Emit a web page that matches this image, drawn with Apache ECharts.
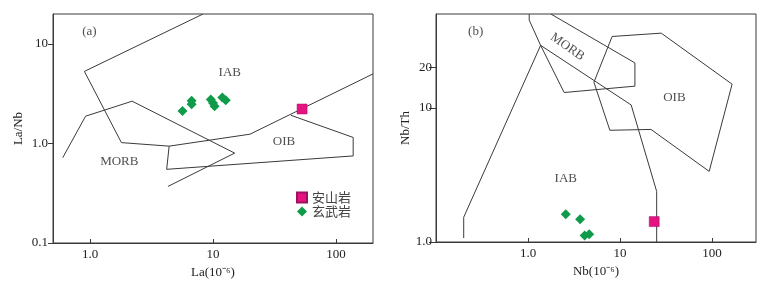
<!DOCTYPE html>
<html><head><meta charset="utf-8">
<script src="https://cdn.jsdelivr.net/npm/echarts@6/dist/echarts.min.js"></script>
<style>html,body{margin:0;padding:0;background:#fff}#c{width:769px;height:281px}</style>
</head><body><div id="c"></div><script>
// ---- Data (a): La/Nb vs La ----
const leftIAB = [[8.3,20],[0.9,5.3],[1.8,1.02],[4.4,0.94],[20,1.24],[200,5.0]];
const leftMORB = [[0.6,0.72],[0.92,1.88],[2.2,2.66],[15,0.8],[4.3,0.37]];
const leftOIB = [[43,1.92],[138,1.15],[138,0.75],[4.2,0.55],[4.4,0.94]];
const leftAndesite = [[53,2.22]];
const leftBasalt = [[5.65,2.12],[6.7,2.68],[6.7,2.48],[9.6,2.76],[10.0,2.55],[10.3,2.37],[11.9,2.89],[12.7,2.72]];
const leftLabels = [['(a)',0.99,13.2],['IAB',13.7,5.1],['MORB',1.73,0.654],['OIB',37.8,1.04]];
const leftXTicks = [1,10,100];
const leftXTickLabels = ['1.0','10','100'];
const leftYTicks = [0.1,1,10];
const leftYTickLabels = ['0.1','1.0','10'];

// ---- Data (b): Nb/Th vs Nb ----
const rightMORB = [[1.03,50],[1.03,45],[1.37,29.2],[2.47,13],[14.5,14.5],[14.5,21.6],[1.77,50]];
const rightIAB = [[0.2,1.07],[0.2,1.53],[1.37,29.2],[13.2,10.5],[25,2.38],[25,1.0]];
const rightOIB = [[8.2,34],[28,36],[165,15],[93,3.36],[21.7,6.9],[7.75,6.8],[5.2,15.5],[8.2,34]];
const rightAndesite = [[23.5,1.42]];
const rightBasalt = [[2.57,1.61],[3.68,1.48],[4.12,1.12],[4.62,1.14]];
const rightLabels = [['(b)',0.27,36.7,0],['MORB',2.68,28.4,-35],['OIB',38.9,11.9,0],['IAB',2.57,2.99,0]];
const rightXTicks = [1,10,100];
const rightXTickLabels = ['1.0','10','100'];
const rightYTicks = [1,10,20];
const rightYTickLabels = ['1.0','10','20'];

const FONT = "'Liberation Serif','Times New Roman',serif";
const CJK = "'Noto Sans CJK SC',sans-serif";
const LINE = '#3a3a3a';
const PINK = '#e5137f';
const GREEN = '#0f9b4a';

function fmt(ticks, labels){
  return function(v){
    for (let i=0;i<ticks.length;i++){ if (Math.abs(v-ticks[i])/ticks[i] < 1e-6) return labels[i]; }
    return '';
  };
}
function xAxis(gi, min, max, ticks, labels, name){
  return {type:'log', logBase:10, gridIndex:gi, min, max, name, nameLocation:'middle', nameGap:17,
    nameTextStyle:{fontFamily:FONT, fontSize:13, color:'#222'},
    axisLine:{show:true, lineStyle:{color:LINE, width:1}},
    axisTick:{show:true, inside:true, length:4, customValues:ticks, lineStyle:{color:LINE}},
    minorTick:{show:false}, splitLine:{show:false}, minorSplitLine:{show:false},
    axisLabel:{customValues:ticks, formatter:fmt(ticks,labels), margin:5, fontFamily:FONT, fontSize:13, color:'#222'}};
}
function yAxis(gi, min, max, ticks, labels, name, gap, tlen, lmargin){
  return {type:'log', logBase:10, gridIndex:gi, min, max, name, nameLocation:'middle', nameGap:gap, nameRotate:90,
    nameTextStyle:{fontFamily:FONT, fontSize:13, color:'#222'},
    axisLine:{show:true, lineStyle:{color:LINE, width:1}},
    axisTick:{show:true, inside:false, length:tlen, customValues:ticks, lineStyle:{color:LINE}},
    minorTick:{show:false}, splitLine:{show:false}, minorSplitLine:{show:false},
    axisLabel:{customValues:ticks, formatter:fmt(ticks,labels), margin:lmargin, fontFamily:FONT, fontSize:13, color:'#222'}};
}
function poly(data, gi){
  return {type:'line', xAxisIndex:gi, yAxisIndex:gi, data, symbol:'none', silent:true, clip:true,
    lineStyle:{color:LINE, width:1}, z:2};
}
function labelSeries(items, gi){
  return {type:'scatter', xAxisIndex:gi, yAxisIndex:gi, silent:true, symbolSize:1, itemStyle:{color:'rgba(0,0,0,0)'}, z:3,
    data: items.map(it => ({name:it[0], value:[it[1],it[2]],
      label:{show:true, position:'inside', formatter:'{b}', rotate:it[3]||0, fontFamily:FONT, fontSize:13, color:'#222'}}))};
}

const chart = echarts.init(document.getElementById('c'), null, {renderer:'canvas'});
chart.setOption({
  animation:false,
  backgroundColor:'#fff',
  grid:[
    {left:53, top:14, width:320, height:229, show:true, borderColor:LINE, borderWidth:1, containLabel:false, outerBoundsMode:'none'},
    {left:436, top:14, width:320, height:228, show:true, borderColor:LINE, borderWidth:1, containLabel:false, outerBoundsMode:'none'}
  ],
  xAxis:[
    xAxis(0, 0.5, 200, leftXTicks, leftXTickLabels, 'La(10⁻⁶)'),
    xAxis(1, 0.1, 300, rightXTicks, rightXTickLabels, 'Nb(10⁻⁶)')
  ],
  yAxis:[
    yAxis(0, 0.1, 20, leftYTicks, leftYTickLabels, 'La/Nb', 28, 5, 5),
    yAxis(1, 1, 50, rightYTicks, rightYTickLabels, 'Nb/Th', 24, 7, 4)
  ],
  legend:{show:true, data:[{name:'安山岩', icon:'rect'},{name:'玄武岩', icon:'diamond'}], orient:'vertical',
    left:291, top:186, itemWidth:10, itemHeight:10, itemGap:1, selectedMode:false,
    textStyle:{fontFamily:CJK, fontSize:13, color:'#444', lineHeight:12}},
  series:[
    poly(leftIAB,0), poly(leftMORB,0), poly(leftOIB,0),
    poly(rightMORB,1), poly(rightIAB,1), poly(rightOIB,1),
    labelSeries(leftLabels,0), labelSeries(rightLabels,1),
    {name:'玄武岩', type:'scatter', xAxisIndex:0, yAxisIndex:0, data:leftBasalt, symbol:'diamond', symbolSize:10, itemStyle:{color:GREEN, opacity:1}, z:5},
    {name:'安山岩', type:'scatter', xAxisIndex:0, yAxisIndex:0, data:leftAndesite, symbol:'rect', symbolSize:10, itemStyle:{color:PINK, opacity:1, borderColor:'#a01060', borderWidth:0.5}, z:5},
    {name:'玄武岩', type:'scatter', xAxisIndex:1, yAxisIndex:1, data:rightBasalt, symbol:'diamond', symbolSize:10, itemStyle:{color:GREEN, opacity:1}, z:5},
    {name:'安山岩', type:'scatter', xAxisIndex:1, yAxisIndex:1, data:rightAndesite, symbol:'rect', symbolSize:10, itemStyle:{color:PINK, opacity:1, borderColor:'#a01060', borderWidth:0.5}, z:5}
  ]
});
</script></body></html>
